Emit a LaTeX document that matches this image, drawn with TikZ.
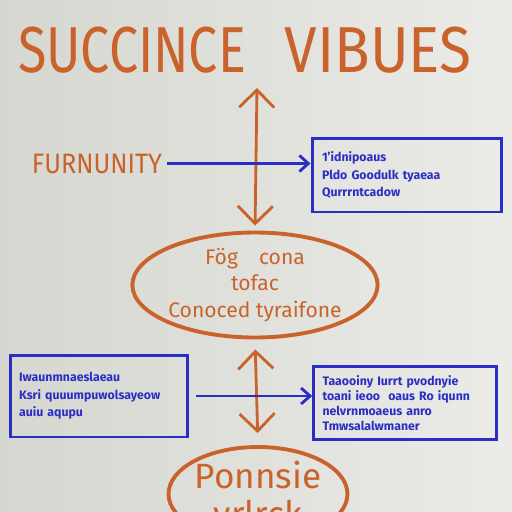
\documentclass[tikz,border=0pt]{standalone}
\usepackage{fontspec}
\setmainfont{Fira Sans}
\usepackage{graphicx}
\usetikzlibrary{shapes.geometric, arrows.meta, positioning}
\definecolor{marker}{HTML}{C9622B}
\definecolor{pen}{HTML}{2A2EC4}
\definecolor{bgdark}{HTML}{D6D7D0}
\definecolor{bglight}{HTML}{EBEBE8}
\tikzset{
  heading/.style={text=marker, font=\fontsize{37}{37}\selectfont, inner sep=0pt, anchor=base},
  side/.style={text=marker, font=\fontsize{16}{16}\selectfont, inner sep=0pt, anchor=base},
  note/.style={rectangle, draw=pen, line width=1.7pt, text=pen, align=left,
               font=\fontsize{7}{10}\selectfont\bfseries, inner sep=5pt},
  bubble/.style={ellipse, draw=marker, line width=2.2pt, text=marker, align=center, inner sep=0pt},
  orarrow/.style={draw=marker, line width=1.6pt,
                  {Straight Barb[length=0.35cm,width=0.7cm]}-{Straight Barb[length=0.35cm,width=0.7cm]}},
  bluearrow/.style={draw=pen, line width=1.6pt, -{Straight Barb[length=0.18cm,width=0.32cm]}},
}

\begin{document}
\begin{tikzpicture}[x=0.02cm, y=-0.02cm]
  \fill[left color=bgdark, right color=bglight] (0,0) rectangle (512,512);
  \useasboundingbox (0,0) rectangle (512,512);

  % title
  \node[heading] (title_l) at (132,72) {\scalebox{0.8}[1]{SUCCINCE}};
  \node[heading] (title_r) at (378,72) {\scalebox{0.9}[1]{VIBUES}};

  \node[side] (furn) at (97,173) {\scalebox{0.9}[1]{FURNUNITY}};

  \node[note, minimum width=3.8cm, minimum height=1.48cm, text width=3.4cm] (topbox) at (407,175)
    {1'idnipoaus\\Pldo Goodulk tyaeaa\\Qurrrntcadow};

  \node[bubble, minimum width=4.3cm, minimum height=2.1cm,
        font=\fontsize{12}{15}\selectfont] (ell1) at (255,285)
    {Fög\quad cona\\tofac\\Conoced tyraifone};

  \node[note, minimum width=3.56cm, minimum height=1.64cm, text width=3.2cm] (leftbox) at (99,396)
    {Iwaunmnaeslaeau\\Ksri quuumpuwolsayeow\\auiu aqupu};
  \node[note, minimum width=3.6cm, minimum height=1.46cm, text width=3.3cm,
        font=\fontsize{7}{8.6}\selectfont\bfseries] (rightbox) at (405,403)
    {Taaooiny Iurrt pvodnyie\\toani ieoo\ \ oaus Ro iqunn\\nelvrnmoaeus anro\\Tmwsalalwmaner};

  \node[bubble, minimum width=3.52cm, minimum height=1.76cm,
        font=\fontsize{20}{22}\selectfont] (ell2) at (258,494)
    {Ponnsie\\vrlrck};

  \coordinate (arrtop) at (257,88);

  \draw[orarrow, shorten >=0.1cm] (arrtop) -- (ell1.north);
  \draw[orarrow, shorten <=0.2cm, shorten >=0.24cm] (ell1.south) -- (ell2.north);
  \draw[bluearrow, shorten <=0.1cm] (furn.east) -- (furn.east -| topbox.west);
  \draw[bluearrow, shorten <=0.14cm] (leftbox.east) -- (leftbox.east -| rightbox.west);
\end{tikzpicture}
\end{document}
